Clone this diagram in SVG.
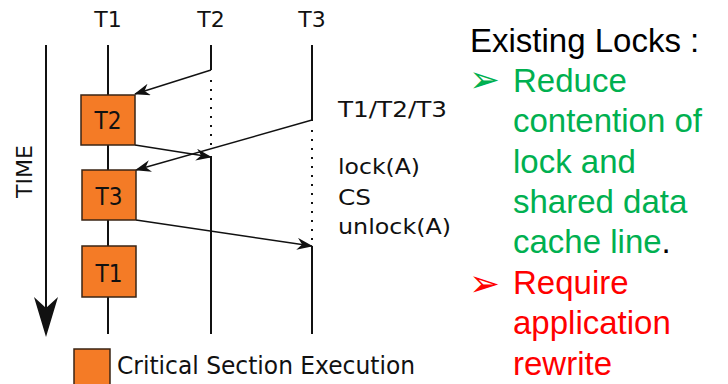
<svg xmlns="http://www.w3.org/2000/svg" width="728" height="384" viewBox="0 0 728 384">
<defs>
<style>
.lbl{font-family:"DejaVu Sans",Verdana,sans-serif;font-size:22px;fill:#111}
.bx{font-family:"DejaVu Sans",Verdana,sans-serif;font-size:24px;fill:#111}
.leg{font-family:"DejaVu Sans",Verdana,sans-serif;font-size:24px;fill:#111}
.ln{stroke:#111;stroke-width:2;fill:none}
.dot{stroke:#111;stroke-width:2;fill:none;stroke-dasharray:2 7}
.arr{stroke:#111;stroke-width:1.4;fill:none;marker-end:url(#ah)}
.box{fill:#F47B26;stroke:#3a2515;stroke-width:1.5}
.rt{font-family:"Liberation Sans",Arial,sans-serif;font-size:33px}
.bl{font-family:"DejaVu Sans",sans-serif;font-size:37px}
.g{fill:#00B050}
.r{fill:#FF0000}
</style>
<marker id="ah" markerUnits="userSpaceOnUse" markerWidth="16" markerHeight="12" viewBox="0 0 16 12" refX="15" refY="6" orient="auto">
<path d="M0,0 L16,6 L0,12 L5,6 z" fill="#111"/>
</marker>
</defs>
<rect width="728" height="384" fill="#fff"/>
<g id="headers">
<text class="lbl" x="108" y="27" text-anchor="middle">T1</text>
<text class="lbl" x="211" y="27" text-anchor="middle">T2</text>
<text class="lbl" x="312" y="27" text-anchor="middle">T3</text>
</g>
<g id="time-axis">
<line class="ln" x1="46" y1="45" x2="46" y2="310"/>
<path d="M46,337 L34,297 L46,308 L58,297 z" fill="#111"/>
<text class="lbl" transform="translate(32,198) rotate(-90)" textLength="53" lengthAdjust="spacingAndGlyphs">TIME</text>
</g>
<g id="timelines">
<line class="ln" x1="108" y1="45" x2="108" y2="334"/>
<line class="ln" x1="211" y1="45" x2="211" y2="70"/>
<line class="dot" x1="211" y1="80" x2="211" y2="150"/>
<line class="ln" x1="211" y1="156" x2="211" y2="334"/>
<line class="ln" x1="312" y1="45" x2="312" y2="121"/>
<line class="dot" x1="312" y1="130" x2="312" y2="242"/>
<line class="ln" x1="312" y1="246" x2="312" y2="334"/>
</g>
<g id="connectors">
<line class="arr" x1="211" y1="70" x2="135" y2="94"/>
<line class="arr" x1="135" y1="145" x2="211" y2="157"/>
<line class="arr" x1="312" y1="120" x2="136" y2="170"/>
<line class="arr" x1="136" y1="220" x2="312" y2="246"/>
</g>
<g id="cs-t2">
<rect class="box" x="81" y="95" width="54" height="50"/>
<text class="bx" x="108" y="129" text-anchor="middle" textLength="27" lengthAdjust="spacingAndGlyphs">T2</text>
</g>
<g id="cs-t3">
<rect class="box" x="82" y="170" width="54" height="50"/>
<text class="bx" x="109" y="205" text-anchor="middle" textLength="27" lengthAdjust="spacingAndGlyphs">T3</text>
</g>
<g id="cs-t1">
<rect class="box" x="82" y="246" width="54" height="51"/>
<text class="bx" x="109" y="282" text-anchor="middle" textLength="27" lengthAdjust="spacingAndGlyphs">T1</text>
</g>
<g id="code">
<text class="lbl" x="338" y="117" textLength="109" lengthAdjust="spacingAndGlyphs">T1/T2/T3</text>
<text class="lbl" x="338" y="174" textLength="82" lengthAdjust="spacingAndGlyphs">lock(A)</text>
<text class="lbl" x="338" y="205" textLength="33" lengthAdjust="spacingAndGlyphs">CS</text>
<text class="lbl" x="338" y="234" textLength="113" lengthAdjust="spacingAndGlyphs">unlock(A)</text>
</g>
<g id="legend">
<rect class="box" x="74" y="349" width="36" height="40"/>
<text class="leg" x="117" y="374" textLength="298" lengthAdjust="spacingAndGlyphs">Critical Section Execution</text>
</g>
<g id="notes">
<text class="rt" x="470" y="52" fill="#000">Existing Locks :</text>
<text class="bl g" x="469" y="92">➢</text>
<text class="rt g" x="513" y="92">Reduce</text>
<text class="rt g" x="513" y="132">contention of</text>
<text class="rt g" x="513" y="173">lock and</text>
<text class="rt g" x="513" y="213">shared data</text>
<text class="rt" x="513" y="253"><tspan class="g">cache line</tspan><tspan fill="#000">.</tspan></text>
<text class="bl r" x="469" y="296">➢</text>
<text class="rt r" x="513" y="294">Require</text>
<text class="rt r" x="513" y="334">application</text>
<text class="rt r" x="513" y="375">rewrite</text>
</g>
</svg>
